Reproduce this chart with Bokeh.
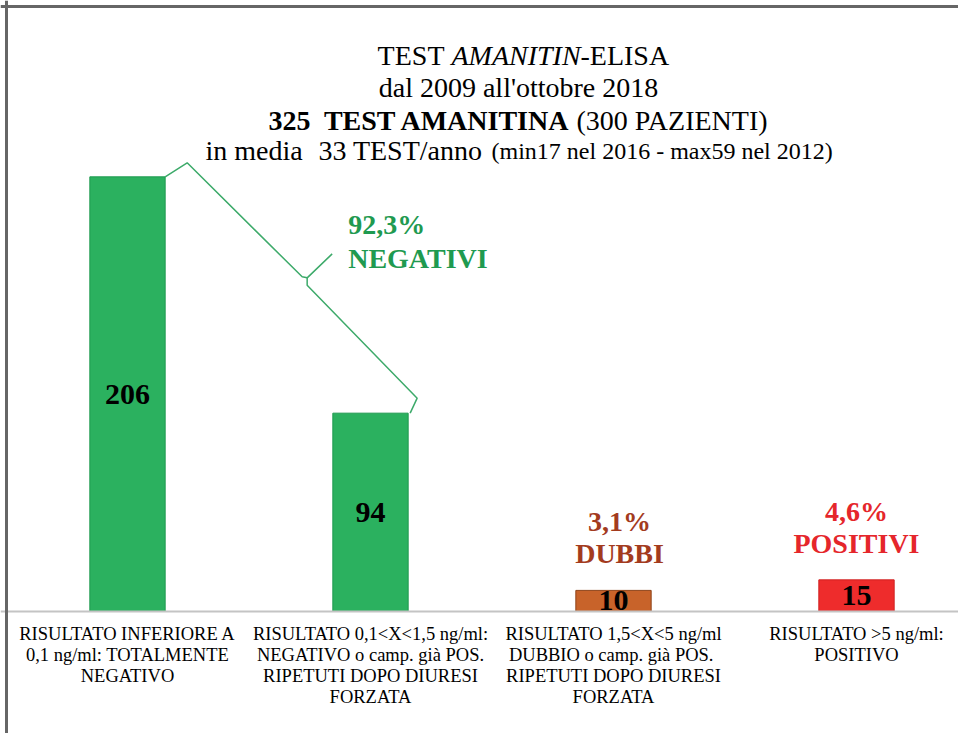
from bokeh.plotting import figure
from bokeh.models import Range1d, FixedTicker, Label, Span, ColumnDataSource
from bokeh.embed import file_html
from bokeh.resources import INLINE
from bokeh.core.properties import value

# ---------------- data ----------------
categories = [
    "RISULTATO INFERIORE A\n0,1 ng/ml: TOTALMENTE\nNEGATIVO",
    "RISULTATO 0,1<X<1,5 ng/ml:\nNEGATIVO o camp. già POS.\nRIPETUTI DOPO DIURESI\nFORZATA",
    "RISULTATO 1,5<X<5 ng/ml\nDUBBIO o camp. già  POS.\nRIPETUTI DOPO DIURESI\nFORZATA",
    "RISULTATO >5 ng/ml:\nPOSITIVO",
]
positions = [0, 1, 2, 3]
counts = [206, 94, 10, 15]
bar_labels = ["206", "94", "10", "15"]
pct_labels = ["92,3%", "3,1%", "4,6%"]
group_labels = ["NEGATIVI", "DUBBI", "POSITIVI"]
title_line1 = ["TEST", "AMANITIN", "-ELISA"]
title_line2 = "dal 2009 all'ottobre 2018"
title_line3 = ["325", "TEST AMANITINA", "(300 PAZIENTI)"]
title_line4 = ["in media", "33 TEST/anno", "(min17 nel 2016 - max59 nel 2012)"]

# ---------------- styles ----------------
FONT = "Liberation Serif"
bar_fill = ["#2BB15F", "#2BB15F", "#C8632A", "#EE2C2C"]
bar_line = ["#1F9A50", "#1F9A50", "#8E4218", "#D02020"]
grp_colors = ["#1F9A50", "#A33B1E", "#E5262B"]

W, H = 958, 733
OX, OY = 0, 0
PXX, PXY = 243.0, 2.11          # pixels per x unit / per y unit
X0, Y0 = 127.0, 611.0           # pixel of x=0 / y=0
BASE_FIX = 0.34                 # em offset correction for alphabetic baseline

xs = (OX - X0) / PXX
xe = xs + W / PXX
ye = (Y0 - OY) / PXY
ys = ye - H / PXY


def ax(px):
    return (px - X0) / PXX


def ay(py):
    return (Y0 - py) / PXY


p = figure(width=W, height=H, x_range=Range1d(xs, xe), y_range=Range1d(ys, ye),
           min_border=0, toolbar_location=None, output_backend="svg",
           background_fill_color="white", border_fill_color="white")
p.outline_line_color = None
p.xgrid.visible = False
p.ygrid.visible = False
p.yaxis.visible = False

BW = 0.31
src = ColumnDataSource(dict(x=positions, top=counts, fill=bar_fill, line=bar_line,
                            mid=[c / 2 for c in counts], lab=bar_labels))
p.vbar(x="x", top="top", bottom=0, width=BW, source=src,
       fill_color="fill", line_color="line", line_width=1)

p.text(x="x", y="mid", text="lab", source=src, text_font=value(FONT),
       text_font_style="bold", text_font_size="30px", text_align="center",
       text_baseline="middle", text_color="black")

# axis at y = 0
xa = p.xaxis[0]
xa.ticker = FixedTicker(ticks=positions)
xa.major_label_overrides = {pos: lab for pos, lab in zip(positions, categories)}
xa.fixed_location = 0
xa.axis_line_color = "#C4C4C4"
xa.axis_line_width = 2
xa.major_tick_line_color = None
xa.minor_tick_line_color = None
xa.major_label_text_font = FONT
xa.major_label_text_font_size = "18.5px"
xa.major_label_text_color = "black"
xa.major_label_text_line_height = 1.05
xa.major_label_standoff = 6

# brace between the two negative bars
ax0, ay0 = positions[0] + BW / 2, counts[0]
bx0, by0 = positions[1] + BW / 2, counts[1]


def off(x, y, dpx, dpy):
    return x + dpx / PXX, y - dpy / PXY


A = (ax0, ay0)
P2 = off(ax0, ay0, 22, -14)
P3 = off(ax0, ay0, 137, 100)
C = off(ax0, ay0, 142, 101)
T = off(ax0, ay0, 167, 77)
Q = off(bx0, by0, -101, -128)
E = off(bx0, by0, 9, -15)
F = off(bx0, by0, 2, 0)
p.multi_line(xs=[[A[0], P2[0], P3[0], C[0], T[0]], [C[0], Q[0], E[0], F[0]]],
             ys=[[A[1], P2[1], P3[1], C[1], T[1]], [C[1], Q[1], E[1], F[1]]],
             line_color="#3DAA6A", line_width=1.5)

fix28 = BASE_FIX * 28

# group annotation: negativi
nx, ny = off(T[0], T[1], 16, -20 - fix28)
p.add_layout(Label(x=nx, y=ny, text=pct_labels[0], text_font=FONT, text_font_style="bold",
                   text_font_size="28px", text_color=grp_colors[0], text_align="left",
                   text_baseline="alphabetic"))
nx2, ny2 = off(T[0], T[1], 16, 14 - fix28)
p.add_layout(Label(x=nx2, y=ny2, text=group_labels[0], text_font=FONT, text_font_style="bold",
                   text_font_size="28px", text_color=grp_colors[0], text_align="left",
                   text_baseline="alphabetic"))

# group annotations above small bars
gsrc = ColumnDataSource(dict(
    x=[positions[2] + 6 / PXX, positions[3]],
    y1=[counts[2] + (59 + fix28) / PXY, counts[3] + (59 + fix28) / PXY],
    y2=[counts[2] + (27 + fix28) / PXY, counts[3] + (27 + fix28) / PXY],
    pct=pct_labels[1:], grp=group_labels[1:], col=grp_colors[1:]))
p.text(x="x", y="y1", text="pct", source=gsrc, text_font=value(FONT), text_font_style="bold",
       text_font_size="28px", text_color="col", text_align="center", text_baseline="alphabetic")
p.text(x="x", y="y2", text="grp", source=gsrc, text_font=value(FONT), text_font_style="bold",
       text_font_size="28px", text_color="col", text_align="center", text_baseline="alphabetic")


def lab(x, y, text, size=28, style="normal", align="left"):
    p.add_layout(Label(x=ax(x), y=ay(y - BASE_FIX * size), text=text, text_font=FONT,
                       text_font_size=f"{size}px", text_font_style=style, text_color="black",
                       text_align=align, text_baseline="alphabetic"))


# title
lab(444, 65, title_line1[0], align="right")
lab(451, 65, title_line1[1], style="italic")
lab(580, 65, title_line1[2])
lab(518, 97, title_line2, align="center")
lab(268, 130, title_line3[0], style="bold")
lab(570, 130, title_line3[1], style="bold", align="right")
lab(576, 130, title_line3[2])
lab(205, 160, title_line4[0])
lab(482, 160, title_line4[1], align="right")
lab(491, 159, title_line4[2], size=24)

# frame borders (top / left)
p.add_layout(Span(location=ax(6), dimension="height", line_color="#666666", line_width=3))
p.add_layout(Span(location=ay(6), dimension="width", line_color="#666666", line_width=3))

open("out.html", "w").write(file_html(p, INLINE))
